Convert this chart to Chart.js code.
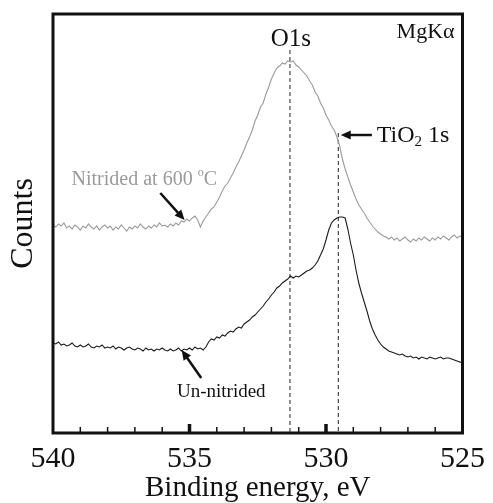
<!DOCTYPE html>
<html>
<head>
<meta charset="utf-8">
<script src="https://cdn.jsdelivr.net/npm/chart.js@4"></script>
<style>
  html, body { margin: 0; padding: 0; background: #fff; }
  #wrap { width: 493px; height: 503px; }
</style>
</head>
<body>
<div id="wrap"><canvas id="xps"></canvas></div>
<script>
// binding energy grid: 540 -> 525 eV, 0.1 eV step
const eStart = 540, eStep = 0.1;

// nitrided at 600 C (grey, upper trace)
const nitrided = [
  208, 206, 209, 207, 210, 205, 207, 204, 208, 206, 203, 207, 205, 209, 206, 204, 207, 203, 206, 208, 205,
  207, 203, 206, 204, 208, 205, 202, 206, 204, 207, 205, 209, 206, 204, 207, 205, 208, 206, 210, 207,
  208, 206, 209, 207, 210, 208, 212, 211, 214, 212, 215, 217, 213, 206, 212, 216, 220, 224, 226, 231,
  236, 242, 247, 250, 255, 260, 266, 271, 277, 283, 290, 296, 303, 312, 318, 326, 330, 339, 346, 354,
  360, 365, 367, 370, 369, 372, 371, 372, 368, 366, 363, 360, 357, 352, 348, 341, 337, 330, 325, 318,
  313, 307, 303, 296, 287, 274, 264, 256, 248, 241, 234, 228, 224, 220, 215, 211, 207, 204, 201, 199,
  197, 196, 194, 196, 193, 195, 192, 194, 196, 193, 191, 194, 192, 195, 193, 196, 194, 192, 195, 193,
  196, 194, 197, 195, 193, 196, 198, 195, 197, 196
];

// un-nitrided (black, lower trace)
const unNitrided = [
  90, 89, 91, 88, 89, 87, 88, 90, 87, 86, 88, 86, 87, 89, 86, 85, 87, 86, 88, 85, 86,
  85, 87, 84, 86, 85, 83, 85, 86, 84, 83, 85, 84, 82, 85, 83, 84, 82, 84, 83, 85,
  83, 82, 84, 82, 83, 85, 82, 84, 83, 85, 83, 86, 84, 85, 83, 86, 91, 94, 93, 96,
  95, 98, 97, 100, 102, 101, 104, 106, 105, 109, 111, 113, 116, 118, 121, 124, 127, 131, 134, 138,
  141, 145, 147, 150, 152, 154, 157, 155, 157, 156, 158, 160, 162, 163, 165, 168, 172, 178, 184, 193,
  203, 210, 213, 215, 216, 216, 215, 204, 190, 178, 163, 150, 140, 131, 122, 112, 104, 98, 93, 89,
  86, 84, 82, 81, 80, 79, 78, 79, 77, 76, 77, 75, 76, 74, 76, 75, 74, 76, 75, 74,
  75, 76, 74, 75, 75, 74, 73, 72, 71, 70
];

// peak markers (eV) and where their dashed lines start (counts)
const peakNames = ['O1s', 'TiO2 1s'];
const peakEnergy = [531.32, 529.55];
const peakTop = [383, 300];

const xTicks = [540, 535, 530, 525];

const energy = nitrided.map((_, i) => +(eStart - i * eStep).toFixed(2));
const toPts = arr => arr.map((v, i) => ({ x: energy[i], y: v }));

const serif = '"Liberation Serif", "Times New Roman", serif';

// text and arrows placed in data coordinates
const notes = [
  { parts: [['Nitrided at 600 ', 20, 0], ['o', 12, -7], ['C', 20, 0]], x: 539.32, y: 253, color: '#9a9a9a', align: 'left' },
  { parts: [['Un-nitrided', 19, 0]], x: 535.46, y: 41, color: '#111', align: 'left' },
  { parts: [['O1s', 25, 0]], x: 531.29, y: 394, color: '#111', align: 'center' },
  { parts: [['MgK\u03b1', 22, 0]], x: 525.29, y: 401, color: '#111', align: 'right' },
  { parts: [['TiO', 24, 0], ['2', 15, 6], [' 1s', 24, 0]], x: 528.14, y: 297, color: '#111', align: 'left' }
];
const arrows = [
  { from: [536.07, 240], to: [535.18, 213] },
  { from: [534.57, 55], to: [535.29, 83] },
  { from: [528.32, 298], to: [529.46, 298] }
];

const decor = {
  id: 'decor',
  afterDraw(chart) {
    const { ctx, chartArea: a, scales: { x, y } } = chart;
    ctx.save();
    // frame
    ctx.strokeStyle = '#111';
    ctx.lineWidth = 3;
    ctx.strokeRect(a.left, a.top, a.right - a.left, a.bottom - a.top);
    // inward ticks, 1 eV minor, 5 eV major
    x.ticks.forEach(t => {
      const px = x.getPixelForValue(t.value);
      const major = t.value % 5 === 0;
      if (t.value === 540 || t.value === 525) return;
      ctx.lineWidth = major ? 3.5 : 1.5;
      ctx.beginPath();
      ctx.moveTo(px, a.bottom);
      ctx.lineTo(px, a.bottom - (major ? 9 : 6));
      ctx.stroke();
    });
    // notes
    ctx.textBaseline = 'middle';
    notes.forEach(n => {
      const widths = n.parts.map(p => { ctx.font = p[1] + 'px ' + serif; return ctx.measureText(p[0]).width; });
      const total = widths.reduce((s, w) => s + w, 0);
      let px = x.getPixelForValue(n.x);
      if (n.align === 'center') px -= total / 2;
      if (n.align === 'right') px -= total;
      const py = y.getPixelForValue(n.y);
      ctx.fillStyle = n.color;
      ctx.textAlign = 'left';
      n.parts.forEach((p, i) => {
        ctx.font = p[1] + 'px ' + serif;
        ctx.fillText(p[0], px, py + p[2]);
        px += widths[i];
      });
    });
    // arrows
    ctx.strokeStyle = '#111';
    ctx.fillStyle = '#111';
    arrows.forEach(ar => {
      const x0 = x.getPixelForValue(ar.from[0]), y0 = y.getPixelForValue(ar.from[1]);
      const x1 = x.getPixelForValue(ar.to[0]), y1 = y.getPixelForValue(ar.to[1]);
      const ang = Math.atan2(y1 - y0, x1 - x0);
      const hl = 10, hw = 4.5;
      ctx.lineWidth = 2.5;
      ctx.beginPath();
      ctx.moveTo(x0, y0);
      ctx.lineTo(x1 - Math.cos(ang) * hl * 0.8, y1 - Math.sin(ang) * hl * 0.8);
      ctx.stroke();
      ctx.beginPath();
      ctx.moveTo(x1, y1);
      ctx.lineTo(x1 - Math.cos(ang) * hl - Math.sin(ang) * hw, y1 - Math.sin(ang) * hl + Math.cos(ang) * hw);
      ctx.lineTo(x1 - Math.cos(ang) * hl + Math.sin(ang) * hw, y1 - Math.sin(ang) * hl - Math.cos(ang) * hw);
      ctx.closePath();
      ctx.fill();
    });
    ctx.restore();
  }
};

const peakSets = peakNames.map((name, i) => ({
  label: name,
  data: [{ x: peakEnergy[i], y: peakTop[i] }, { x: peakEnergy[i], y: 0 }],
  borderColor: '#222',
  borderWidth: 1,
  borderDash: [4, 3],
  pointRadius: 0
}));

new Chart(document.getElementById('xps'), {
  type: 'line',
  data: {
    datasets: [
      { label: 'Nitrided at 600 oC', data: toPts(nitrided), borderColor: '#9a9a9a', borderWidth: 1.1, pointRadius: 0, tension: 0 },
      { label: 'Un-nitrided', data: toPts(unNitrided), borderColor: '#1a1a1a', borderWidth: 1.1, pointRadius: 0, tension: 0 },
      ...peakSets
    ]
  },
  options: {
    responsive: true,
    maintainAspectRatio: false,
    animation: false,
    layout: { padding: { top: 14, right: 20, left: 0, bottom: 0 } },
    plugins: { legend: { display: false }, tooltip: { enabled: false } },
    scales: {
      x: {
        type: 'linear',
        reverse: true,
        min: 525,
        max: 540,
        grid: { display: false, drawTicks: false },
        border: { display: false },
        ticks: {
          stepSize: 1,
          autoSkip: false,
          maxRotation: 0,
          padding: 8,
          color: '#111',
          font: { family: serif, size: 30 },
          callback: v => xTicks.includes(v) ? String(v) : ''
        },
        title: {
          display: true,
          text: 'Binding energy, eV',
          color: '#111',
          font: { family: serif, size: 29, lineHeight: 1 },
          padding: { top: 0, bottom: 0 }
        },
        afterFit: s => { s.height = 70; }
      },
      y: {
        min: 0,
        max: 419,
        grid: { display: false, drawTicks: false },
        border: { display: false },
        ticks: { display: false },
        title: {
          display: true,
          text: 'Counts',
          color: '#111',
          font: { family: serif, size: 32, lineHeight: 1 },
          padding: { top: 8, bottom: 0 }
        },
        afterFit: s => { s.width = 53; }
      }
    }
  },
  plugins: [decor]
});
</script>
</body>
</html>
